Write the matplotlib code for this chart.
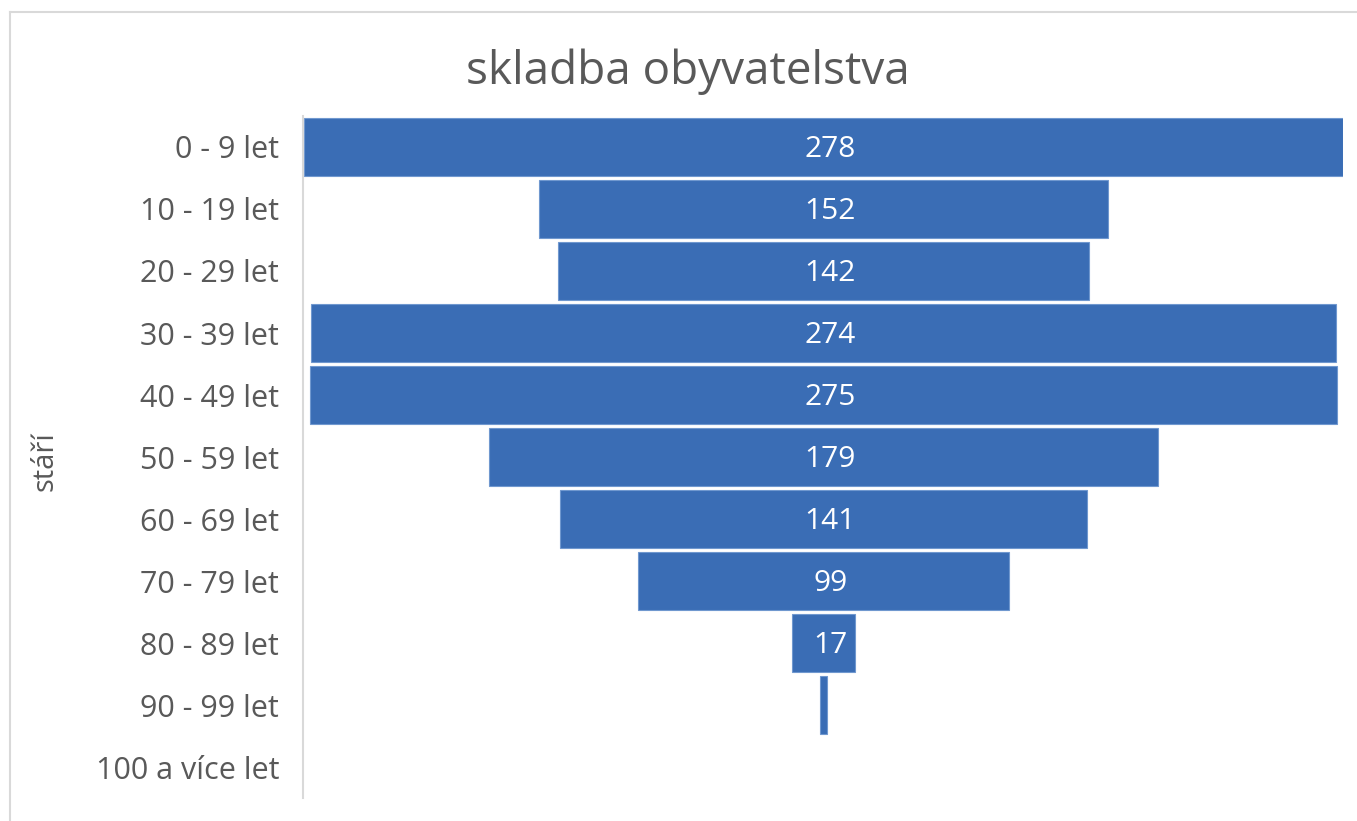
import matplotlib
matplotlib.use("Agg")
import matplotlib.pyplot as plt
import numpy as np
from matplotlib.lines import Line2D

categories = ["0 - 9 let", "10 - 19 let", "20 - 29 let", "30 - 39 let", "40 - 49 let",
              "50 - 59 let", "60 - 69 let", "70 - 79 let", "80 - 89 let", "90 - 99 let",
              "100 a více let"]
values = [278, 152, 142, 274, 275, 179, 141, 99, 17, 2, 0]
title = "skladba obyvatelstva"
ylabel = "stáří"

BAR = "#3A6DB5"
TXT = "#595959"
GRID = "#D9D9D9"
FONT = ["Open Sans", "DejaVu Sans"]

plt.rcParams["font.family"] = FONT

W, H = 1357, 821
fig = plt.figure(figsize=(W / 100, H / 100), dpi=100)

# chart frame (top and left visible)
fig.add_artist(Line2D([10 / W, 10 / W], [0, 1 - 12 / H], transform=fig.transFigure, color=GRID, lw=1.5))
fig.add_artist(Line2D([10 / W, 1], [1 - 12 / H, 1 - 12 / H], transform=fig.transFigure, color=GRID, lw=1.5))

left, right = 304 / W, 1343 / W
top, bottom = 1 - 116 / H, 1 - 798 / H
ax = fig.add_axes([left, bottom, right - left, top - bottom])

vals = np.array(values, dtype=float)
y = np.arange(len(categories))
vmax = vals.max()
lws = [0.8 if v > 0 else 0 for v in vals]
ax.barh(y, vals, left=-vals / 2, height=0.935, color=BAR, edgecolor="#7098CF", linewidth=lws)

for yi, v in zip(y, vals):
    if v >= 5:
        ax.annotate(f"{int(v)}", (0, yi), xytext=(5, -2), textcoords="offset points",
                    ha="center", va="center", color="white", fontsize=21.5)

ax.set_xlim(-vmax / 2, vmax / 2)
ax.set_ylim(len(categories) - 0.5, -0.5)
ax.set_yticks(y)
ax.set_yticklabels(categories)
ax.tick_params(axis="y", length=0, pad=17, labelsize=22, labelcolor=TXT)
ax.set_xticks([])
for s in ["top", "right", "bottom"]:
    ax.spines[s].set_visible(False)
ax.spines["left"].set_color(GRID)
ax.spines["left"].set_linewidth(1.5)
ax.spines["left"].set_position(("outward", 1))

fig.text(688 / W, 1 - 72 / H, title, ha="center", va="center", fontsize=33, color=TXT)
fig.text(45 / W, 1 - 461 / H, ylabel, ha="center", va="center", rotation=90, fontsize=21, color=TXT)

fig.savefig("out.png", dpi=100)
